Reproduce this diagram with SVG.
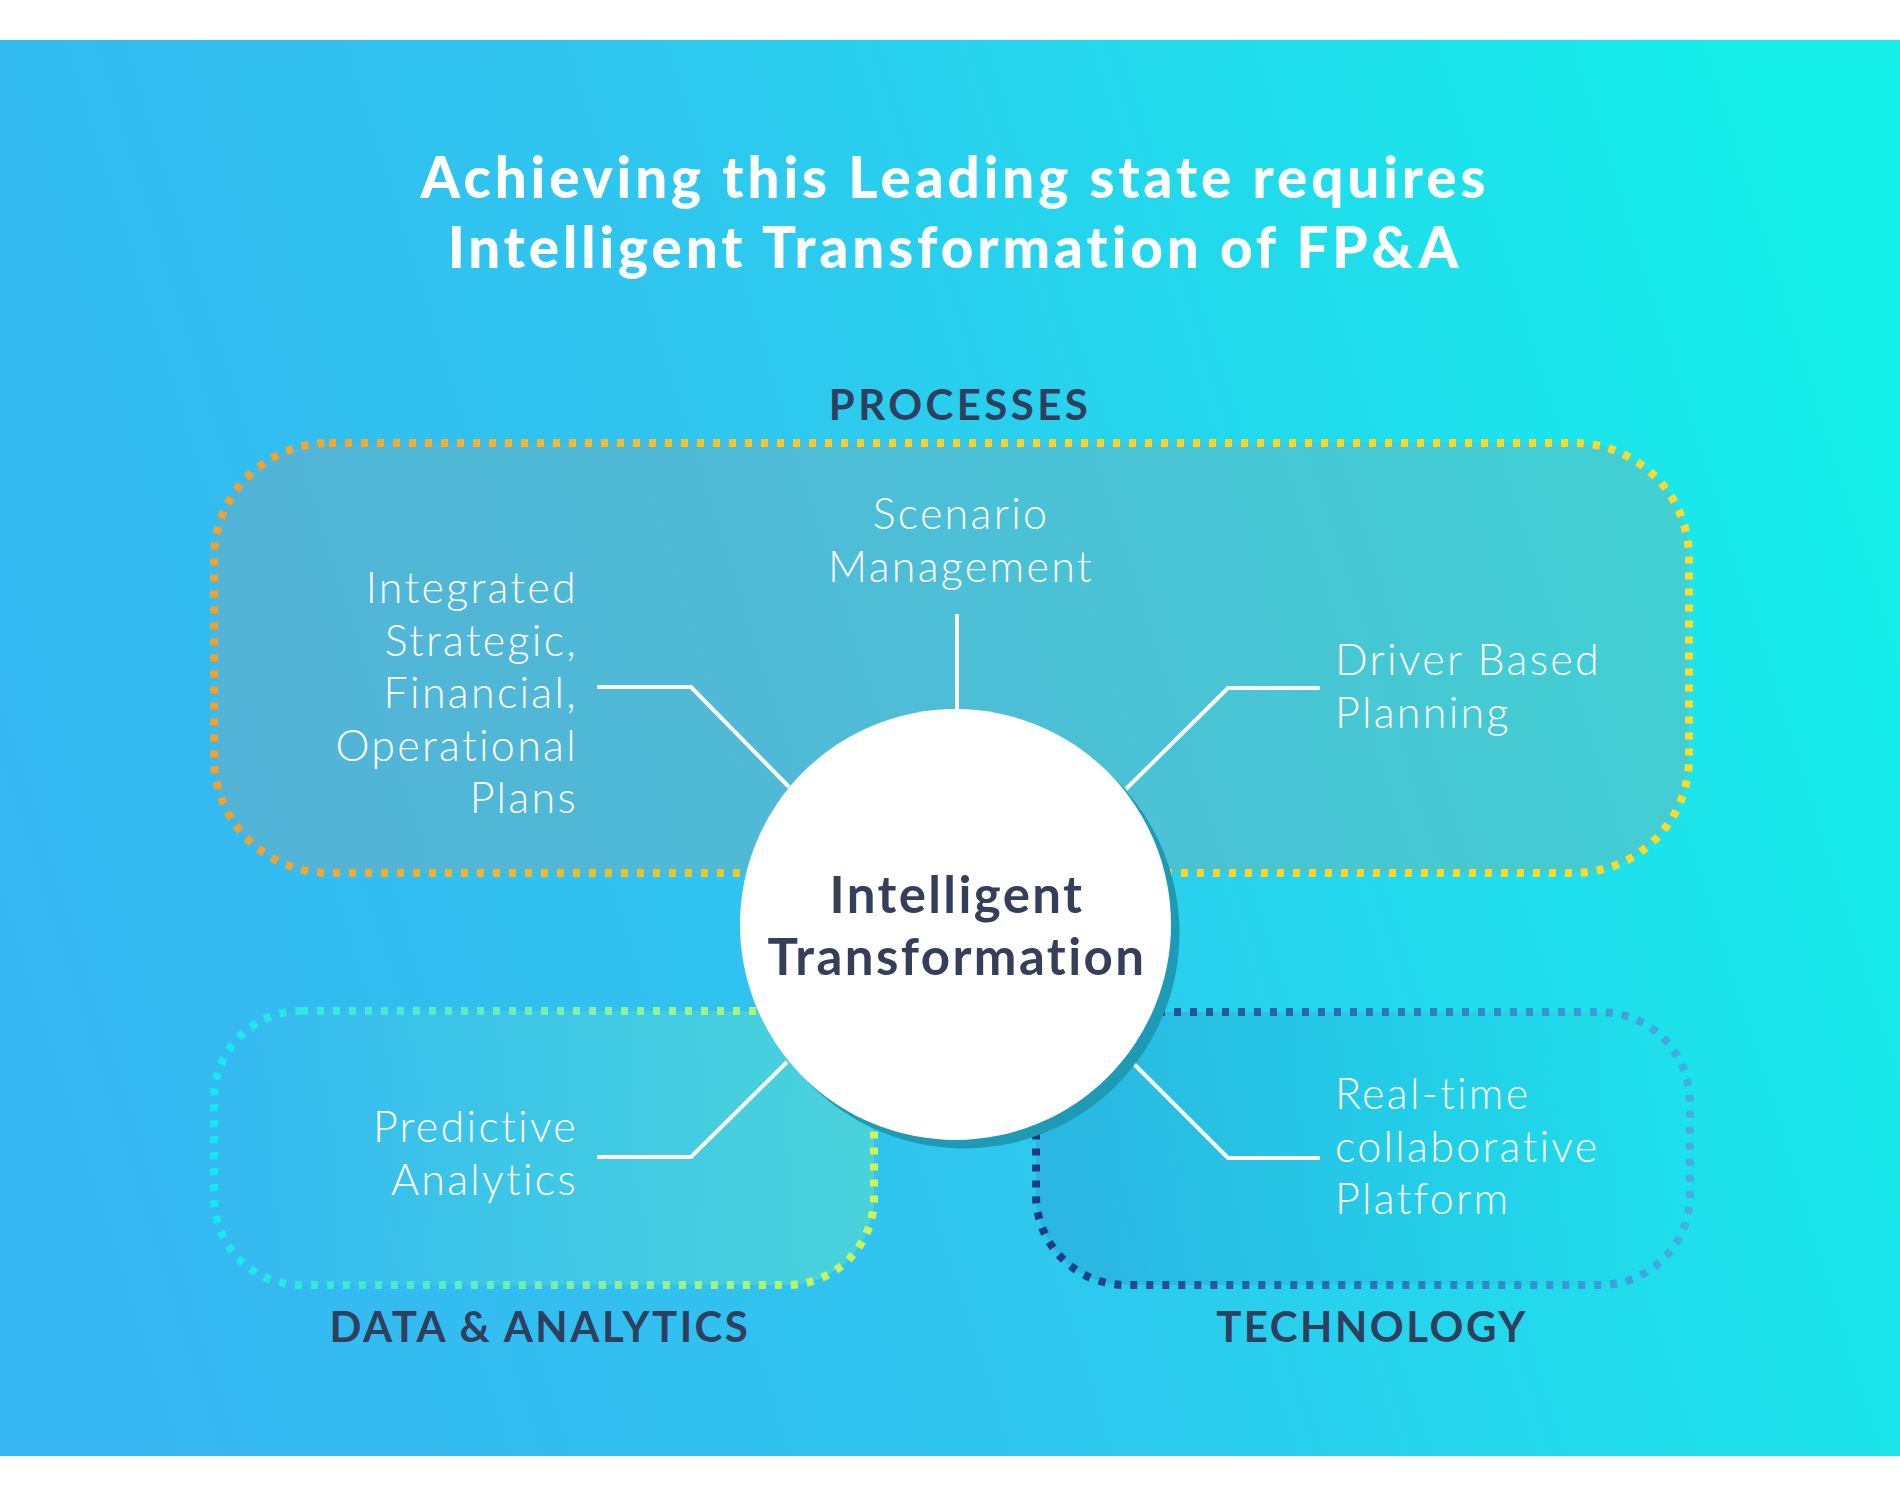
<svg xmlns="http://www.w3.org/2000/svg" width="1900" height="1498" viewBox="0 0 1900 1498">
  <defs>
    <linearGradient id="bg" x1="0" y1="1100" x2="1900" y2="500" gradientUnits="userSpaceOnUse">
      <stop offset="0" stop-color="#36b6f2"/>
      <stop offset="0.45" stop-color="#2fc6ef"/>
      <stop offset="1" stop-color="#14efe9"/>
    </linearGradient>
    <linearGradient id="procStroke" x1="214" y1="0" x2="1689" y2="0" gradientUnits="userSpaceOnUse">
      <stop offset="0" stop-color="#f19f31"/>
      <stop offset="0.45" stop-color="#f8cf2c"/>
      <stop offset="1" stop-color="#fcdb2a"/>
    </linearGradient>
    <linearGradient id="dataStroke" x1="214" y1="0" x2="874" y2="0" gradientUnits="userSpaceOnUse">
      <stop offset="0" stop-color="#17e6f2"/>
      <stop offset="0.55" stop-color="#7ff0a8"/>
      <stop offset="1" stop-color="#cdf552"/>
    </linearGradient>
    <linearGradient id="techStroke" x1="1036" y1="0" x2="1690" y2="0" gradientUnits="userSpaceOnUse">
      <stop offset="0" stop-color="#1d3a7e"/>
      <stop offset="0.5" stop-color="#2c70b8"/>
      <stop offset="1" stop-color="#44aee6"/>
    </linearGradient>
    <linearGradient id="dataFill" x1="214" y1="0" x2="874" y2="0" gradientUnits="userSpaceOnUse">
      <stop offset="0" stop-color="#75e9ba" stop-opacity="0"/>
      <stop offset="1" stop-color="#75e9ba" stop-opacity="0.38"/>
    </linearGradient>
    <linearGradient id="techFill" x1="1036" y1="0" x2="1690" y2="0" gradientUnits="userSpaceOnUse">
      <stop offset="0" stop-color="#1e50a0" stop-opacity="0.16"/>
      <stop offset="1" stop-color="#1e50a0" stop-opacity="0"/>
    </linearGradient>
    <style>
      text { font-variant-ligatures: none; font-feature-settings: "liga" 0; }
      .box { stroke-width: 8; stroke-dasharray: 7 9; }
      .item { font-family: "Lato", "Liberation Sans", sans-serif; font-weight: 300; font-size: 43px; letter-spacing: 2.3px; fill: #ffffff; }
      .label { font-family: "Lato", "Liberation Sans", sans-serif; font-weight: 700; font-size: 42px; letter-spacing: 2.5px; fill: #2f3f5e; }
      .title { font-family: "Lato", "Liberation Sans", sans-serif; font-weight: 900; font-size: 56.5px; letter-spacing: 3.9px; fill: #ffffff; text-anchor: middle; }
      .center { font-family: "Lato", "Liberation Sans", sans-serif; font-weight: 700; font-size: 51px; letter-spacing: 2.4px; fill: #363f5a; text-anchor: middle; }
      .conn { fill: none; stroke: #ffffff; stroke-width: 4; stroke-linejoin: miter; }
    </style>
  </defs>

  <rect x="0" y="0" width="1900" height="1498" fill="#ffffff"/>
  <rect x="0" y="40" width="1900" height="1416" fill="url(#bg)"/>

  <g id="title">
    <text class="title" x="955" y="198">Achieving this Leading state requires</text>
    <text class="title" x="955" y="268">Intelligent Transformation of FP&amp;A</text>
  </g>

  <g id="processes">
    <rect class="box" x="214" y="443" width="1475" height="430" rx="115" ry="115" fill="#8ca5aa" fill-opacity="0.35" stroke="url(#procStroke)"/>
    <text class="label" x="960" y="420" text-anchor="middle" style="letter-spacing:3.4px">PROCESSES</text>
  </g>

  <g id="data-analytics">
    <rect class="box" x="214" y="1011" width="660" height="274" rx="87" ry="87" fill="url(#dataFill)" stroke="url(#dataStroke)"/>
    <text class="label" x="540" y="1342" text-anchor="middle">DATA &amp; ANALYTICS</text>
  </g>

  <g id="technology">
    <rect class="box" x="1036" y="1012" width="654" height="273" rx="90" ry="90" fill="url(#techFill)" stroke="url(#techStroke)"/>
    <text class="label" x="1372" y="1342" text-anchor="middle">TECHNOLOGY</text>
  </g>

  <g id="connectors">
    <path class="conn" d="M957,614 L957,709"/>
    <path class="conn" d="M597,687 L691,687 L789,787"/>
    <path class="conn" d="M1320,688 L1228,688 L1126,789"/>
    <path class="conn" d="M597,1157 L691,1157 L787,1062"/>
    <path class="conn" d="M1320,1158 L1228,1158 L1127,1057"/>
  </g>

  <g id="intelligent-transformation">
    <circle cx="964" cy="933" r="215.5" fill="#1f9ab4"/>
    <circle cx="955.5" cy="924.5" r="215.5" fill="#ffffff"/>
    <text class="center" x="957" y="913">Intelligent</text>
    <text class="center" x="957" y="975">Transformation</text>
  </g>

  <g id="integrated-plans">
    <text class="item" x="578" y="603" text-anchor="end">Integrated</text>
    <text class="item" x="578" y="656" text-anchor="end">Strategic,</text>
    <text class="item" x="578" y="708" text-anchor="end">Financial,</text>
    <text class="item" x="578" y="761" text-anchor="end">Operational</text>
    <text class="item" x="578" y="813" text-anchor="end">Plans</text>
  </g>

  <g id="scenario-management">
    <text class="item" x="961" y="529" text-anchor="middle">Scenario</text>
    <text class="item" x="961" y="582" text-anchor="middle">Management</text>
  </g>

  <g id="driver-based-planning">
    <text class="item" x="1335" y="675">Driver Based</text>
    <text class="item" x="1335" y="728">Planning</text>
  </g>

  <g id="predictive-analytics">
    <text class="item" x="578" y="1142" text-anchor="end">Predictive</text>
    <text class="item" x="578" y="1195" text-anchor="end">Analytics</text>
  </g>

  <g id="realtime-platform">
    <text class="item" x="1335" y="1109">Real-time</text>
    <text class="item" x="1335" y="1162">collaborative</text>
    <text class="item" x="1335" y="1214">Platform</text>
  </g>
</svg>
